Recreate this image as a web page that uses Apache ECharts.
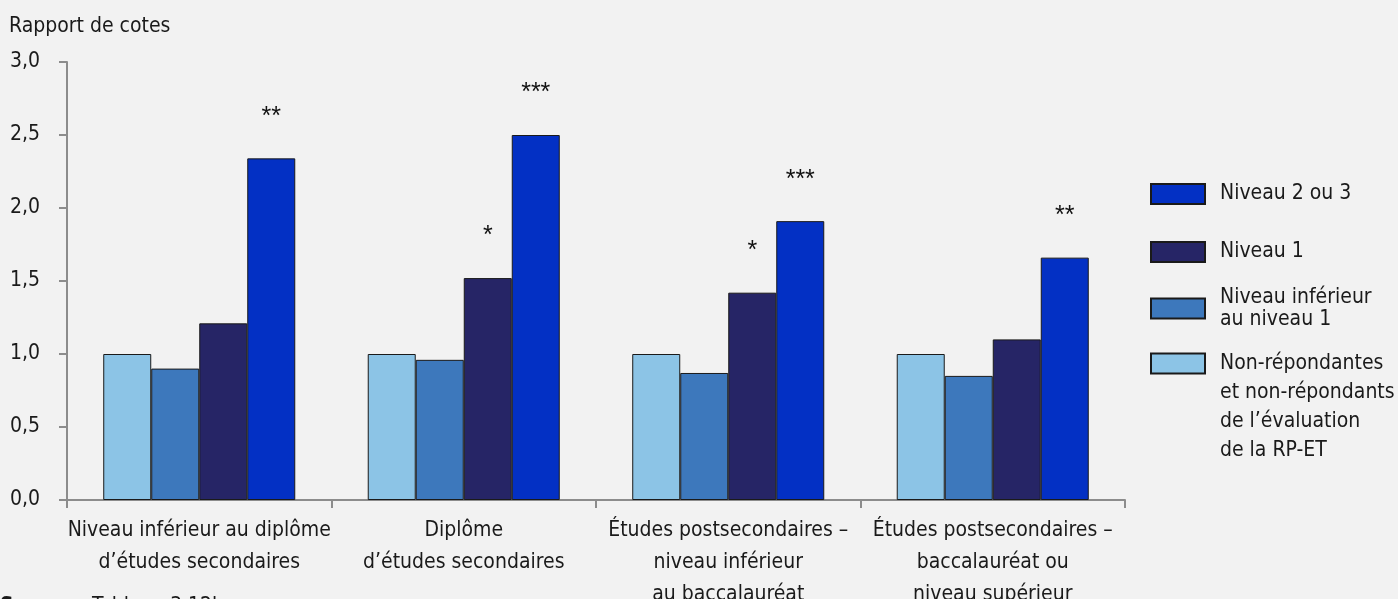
<!DOCTYPE html>
<html>
<head>
<meta charset="utf-8">
<script src="https://cdn.jsdelivr.net/npm/echarts@6/dist/echarts.min.js"></script>
<style>
html,body{margin:0;padding:0;background:#f2f2f2;}
#chart{width:1398px;height:599px;}
</style>
</head>
<body>
<div id="chart"></div>
<script>
const categories = [
  'Niveau inférieur au diplôme\nd’études secondaires',
  'Diplôme\nd’études secondaires',
  'Études postsecondaires –\nniveau inférieur\nau baccalauréat',
  'Études postsecondaires –\nbaccalauréat ou\nniveau supérieur'
];
const seriesNames = [
  'Non-répondantes et non-répondants de l’évaluation de la RP-ET',
  'Niveau inférieur au niveau 1',
  'Niveau 1',
  'Niveau 2 ou 3'
];
const valNonRep = [1.00, 1.00, 1.00, 1.00];
const valBelow1 = [0.90, 0.96, 0.87, 0.85];
const valLevel1 = [1.21, 1.52, 1.42, 1.10];
const valLevel23 = [2.34, 2.50, 1.91, 1.66];
const starsNonRep = ['', '', '', ''];
const starsBelow1 = ['', '', '', ''];
const starsLevel1 = ['', '*', '*', ''];
const starsLevel23 = ['**', '***', '***', '**'];
const yTicks = [0, 0.5, 1, 1.5, 2, 2.5, 3];

const colors = ['#8cc4e6', '#3d78bc', '#262566', '#0330c4'];
const values = [valNonRep, valBelow1, valLevel1, valLevel23];
const stars = [starsNonRep, starsBelow1, starsLevel1, starsLevel23];
const FONT = '"Liberation Sans Narrow", "DejaVu Sans Condensed", Arial, sans-serif';
const TXT = '#1a1a1a';

const chart = echarts.init(document.getElementById('chart'), null, {renderer: 'canvas'});

const series = values.map((v, i) => ({
  name: seriesNames[i],
  type: 'bar',
  data: v,
  barGap: '0%',
  barCategoryGap: '27.4%',
  itemStyle: {color: colors[i], borderColor: '#1a1a1a', borderWidth: 1},
  emphasis: {disabled: true},
  label: {
    show: true,
    position: 'top',
    distance: 29,
    fontFamily: '"Liberation Sans", Arial, sans-serif',
    fontSize: 25,
    lineHeight: 25,
    color: '#111',
    formatter: p => stars[i][p.dataIndex]
  }
}));

function richStyle(lh) {
  return {
    t: {fontFamily: FONT, fontSize: 21, color: TXT, lineHeight: lh, padding: [0, 0, 0, 10]},
    e: {fontFamily: FONT, fontSize: 21, color: TXT, lineHeight: lh}
  };
}

const legendCommon = {
  orient: 'vertical',
  left: 1150,
  padding: 0,
  icon: 'rect',
  itemWidth: 54,
  itemHeight: 20,
  itemGap: 0,
  selectedMode: false
};

const option = {
  backgroundColor: '#f2f2f2',
  animation: false,
  title: {
    text: 'Rapport de cotes',
    left: 9,
    top: 16,
    padding: 0,
    textStyle: {fontFamily: FONT, fontSize: 21, fontWeight: 'normal', color: TXT}
  },
  graphic: [
    {type: 'text', left: 0, top: 596, style: {text: 'Source :', font: 'bold 21px ' + FONT, fill: TXT}},
    {type: 'text', left: 92, top: 596, style: {text: 'Tableau 3.12b', font: '21px ' + FONT, fill: TXT}}
  ],
  legend: [
    Object.assign({}, legendCommon, {
      top: 183, data: [seriesNames[3]],
      formatter: () => '{t|Niveau 2 ou 3}',
      textStyle: {rich: richStyle(20)}
    }),
    Object.assign({}, legendCommon, {
      top: 241, data: [seriesNames[2]],
      formatter: () => '{t|Niveau 1}',
      textStyle: {rich: richStyle(20)}
    }),
    Object.assign({}, legendCommon, {
      top: 287, data: [seriesNames[1]],
      formatter: () => '{t|Niveau inférieur}\n{t|au niveau 1}',
      textStyle: {rich: richStyle(22)}
    }),
    Object.assign({}, legendCommon, {
      top: 266, data: [seriesNames[0]],
      formatter: () => '{e| }\n{e| }\n{e| }\n{t|Non-répondantes}\n{t|et non-répondants}\n{t|de l’évaluation}\n{t|de la RP-ET}',
      textStyle: {rich: richStyle(29)}
    })
  ],
  grid: {left: 67, right: 273, top: 62, bottom: 99, containLabel: false, outerBoundsMode: 'none'},
  xAxis: {
    type: 'category',
    data: categories,
    axisLine: {lineStyle: {color: '#8c8c8c', width: 2}},
    axisTick: {show: true, length: 8, lineStyle: {color: '#8c8c8c', width: 2}},
    axisLabel: {
      interval: 0,
      margin: 15,
      fontFamily: FONT,
      fontSize: 21,
      lineHeight: 32,
      color: TXT,
      align: 'center'
    }
  },
  yAxis: {
    type: 'value',
    min: 0,
    max: 3,
    interval: 0.5,
    axisLine: {show: true, lineStyle: {color: '#8c8c8c', width: 2}},
    axisTick: {show: true, length: 8, lineStyle: {color: '#8c8c8c', width: 2}},
    splitLine: {show: false},
    axisLabel: {
      margin: 27,
      fontFamily: FONT,
      fontSize: 21,
      color: TXT,
      formatter: v => (yTicks.includes(v) ? v.toFixed(1).replace('.', ',') : '')
    }
  },
  series: series
};
chart.setOption(option);
</script>
</body>
</html>
